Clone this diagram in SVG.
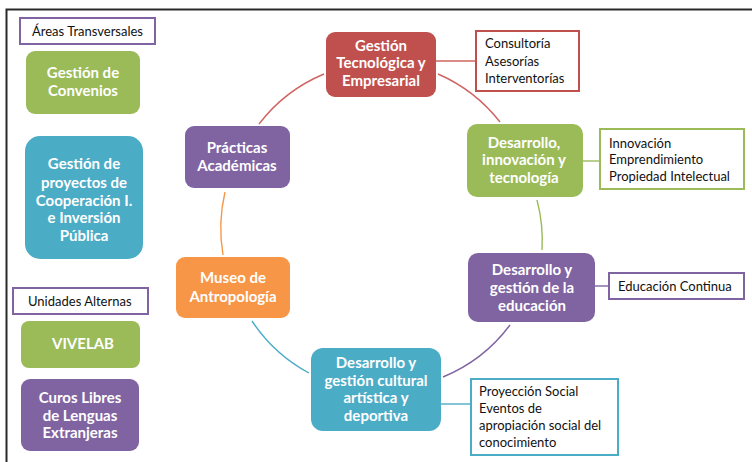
<svg xmlns="http://www.w3.org/2000/svg" width="752" height="462" viewBox="0 0 752 462">
<style>
.n text{font-family:"Lato","Open Sans","Liberation Sans",sans-serif;font-weight:bold;font-size:15px;fill:#fff;text-anchor:middle}
.s text{font-family:"Lato","Open Sans","Liberation Sans",sans-serif;font-size:13px;fill:#111}
.red{fill:#C0504D}.grn{fill:#9BBB59}.pur{fill:#8064A2}.blu{fill:#4BACC6}.org{fill:#F79646}
.box{fill:#fff;stroke-width:2}
.c path{fill:none;stroke-width:1.4}
</style>
<rect x="0" y="0" width="752" height="462" fill="#fff"/>
<path d="M6.5 470 V9.5 H760" fill="none" stroke="#2a2a2a" stroke-width="2"/>
<g class="c" id="connectors">
<path d="M259 124 A159 159 0 0 1 324 74" stroke="#D06462"/>
<path d="M438 74 A159 159 0 0 1 500 122" stroke="#D06462"/>
<path d="M537 200 A159 159 0 0 1 542 250" stroke="#9BBB59"/>
<path d="M510 325 A159 159 0 0 1 443 377" stroke="#8064A2"/>
<path d="M309 373 A159 159 0 0 1 252 321" stroke="#4BACC6"/>
<path d="M223 255 A159 159 0 0 1 225 192" stroke="#F79646"/>
<path d="M436 61 H476" stroke="#D06462" stroke-width="2"/>
<path d="M583 161 H600" stroke="#9BBB59" stroke-width="2"/>
<path d="M595 286 H608" stroke="#8064A2" stroke-width="2"/>
<path d="M441 404 H470" stroke="#4BACC6" stroke-width="2"/>
</g>
<g id="areas-transversales" class="s"><rect class="box" x="20" y="18" width="135" height="26" stroke="#8064A2"/><text x="32" y="35.5">Áreas Transversales</text></g>
<g id="gestion-convenios" class="n"><rect class="grn" x="26" y="51" width="114" height="63" rx="9"/><text x="83" y="78">Gestión de</text><text x="83" y="96">Convenios</text></g>
<g id="gestion-proyectos" class="n"><rect class="blu" x="25" y="136" width="118" height="123" rx="15"/><text x="84" y="169">Gestión de</text><text x="84" y="188">proyectos de</text><text x="84" y="206">Cooperación I.</text><text x="84" y="223">e Inversión</text><text x="84" y="241">Pública</text></g>
<g id="unidades-alternas" class="s"><rect class="box" x="13" y="288" width="135" height="26" stroke="#8064A2"/><text x="28" y="305.5">Unidades Alternas</text></g>
<g id="vivelab" class="n"><rect class="grn" x="21" y="321" width="119" height="47" rx="8"/><text x="83" y="349">VIVELAB</text></g>
<g id="cursos-libres" class="n"><rect class="pur" x="21" y="379" width="118" height="72" rx="9"/><text x="80" y="403">Curos Libres</text><text x="80" y="421">de Lenguas</text><text x="80" y="438">Extranjeras</text></g>
<g id="practicas" class="n"><rect class="pur" x="185" y="126" width="105" height="62" rx="9"/><text x="237" y="153">Prácticas</text><text x="237" y="171">Académicas</text></g>
<g id="museo" class="n"><rect class="org" x="176" y="257" width="114" height="61" rx="9"/><text x="233" y="283">Museo de</text><text x="233" y="302">Antropología</text></g>
<g id="gestion-tecnologica" class="n"><rect class="red" x="326" y="32" width="110" height="65" rx="9"/><text x="381" y="51">Gestión</text><text x="381" y="68">Tecnológica y</text><text x="381" y="86">Empresarial</text></g>
<g id="consultoria" class="s"><rect class="box" x="476" y="31" width="103" height="60" stroke="#C0504D"/><text x="485" y="47.5">Consultoría</text><text x="485" y="65.5">Asesorías</text><text x="485" y="82.5">Interventorías</text></g>
<g id="desarrollo-innovacion" class="n"><rect class="grn" x="467" y="124" width="116" height="73" rx="10"/><text x="524" y="148">Desarrollo,</text><text x="524" y="165">innovación y</text><text x="524" y="183">tecnología</text></g>
<g id="innovacion" class="s"><rect class="box" x="600" y="129" width="144" height="60" stroke="#9BBB59"/><text x="609" y="147.5">Innovación</text><text x="609" y="163.5">Emprendimiento</text><text x="609" y="180.5">Propiedad Intelectual</text></g>
<g id="desarrollo-educacion" class="n"><rect class="pur" x="468" y="253" width="127" height="69" rx="10"/><text x="532" y="275">Desarrollo y</text><text x="532" y="293">gestión de la</text><text x="532" y="311">educación</text></g>
<g id="educacion-continua" class="s"><rect class="box" x="609" y="273" width="135" height="26" stroke="#8064A2"/><text x="618" y="290.5">Educación Continua</text></g>
<g id="desarrollo-cultural" class="n"><rect class="blu" x="311" y="348" width="130" height="83" rx="12"/><text x="376" y="368">Desarrollo y</text><text x="376" y="386">gestión cultural</text><text x="376" y="403">artística y</text><text x="376" y="421">deportiva</text></g>
<g id="proyeccion-social" class="s"><rect class="box" x="471" y="379" width="147" height="76" stroke="#4BACC6"/><text x="479" y="395.5">Proyección Social</text><text x="479" y="412.5">Eventos de</text><text x="479" y="429.5">apropiación social del</text><text x="479" y="446.5">conocimiento</text></g>
</svg>
